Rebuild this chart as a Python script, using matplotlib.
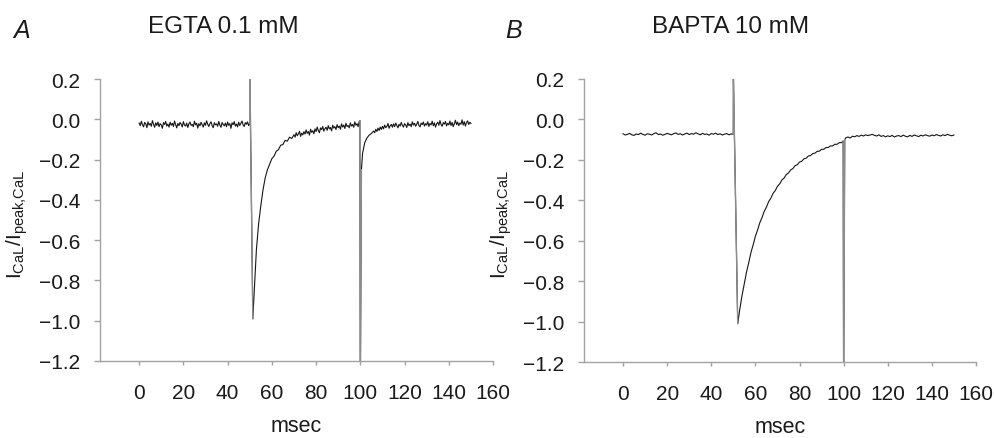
import matplotlib
matplotlib.use('Agg')
from matplotlib import pyplot as plt

plt.rcParams['font.family'] = ['Liberation Sans', 'DejaVu Sans']
plt.rcParams['mathtext.fontset'] = 'custom'
plt.rcParams['mathtext.rm'] = 'Liberation Sans'
plt.rcParams['mathtext.it'] = 'Liberation Sans:italic'

# ---- Panel A: EGTA 0.1 mM (normalised I_CaL) ----
egta_pre_t = [i * 0.5 for i in range(101)]            # 0 .. 50 ms
egta_pre = [-0.018, -0.031, -0.009, -0.026, -0.037, -0.015, -0.022, -0.041, -0.012, -0.028,
            -0.020, -0.034, -0.006, -0.024, -0.039, -0.017, -0.030, -0.013, -0.036, -0.021,
            -0.027, -0.044, -0.016, -0.025, -0.010, -0.033, -0.023, -0.038, -0.014, -0.029,
            -0.019, -0.035, -0.008, -0.026, -0.042, -0.020, -0.031, -0.015, -0.024, -0.037,
            -0.011, -0.028, -0.033, -0.018, -0.040, -0.022, -0.013, -0.030, -0.025, -0.036,
            -0.009, -0.027, -0.019, -0.043, -0.021, -0.032, -0.014, -0.026, -0.038, -0.017,
            -0.029, -0.007, -0.024, -0.035, -0.020, -0.012, -0.031, -0.041, -0.016, -0.027,
            -0.022, -0.034, -0.010, -0.028, -0.039, -0.015, -0.025, -0.032, -0.018, -0.036,
            -0.013, -0.029, -0.021, -0.044, -0.017, -0.026, -0.011, -0.033, -0.023, -0.037,
            -0.014, -0.030, -0.019, -0.008, -0.027, -0.035, -0.016, -0.024, -0.012, -0.031,
            -0.018]
egta_spike_t = [50.1, 51.4]
egta_spike = [0.2, -0.99]
egta_decay_t = list(range(52, 71)) + [70.5 + i * 0.5 for i in range(59)] + [99.8]
egta_decay = [-0.86, -0.65, -0.52, -0.43, -0.35, -0.29, -0.25, -0.222, -0.195, -0.182,
              -0.158, -0.150, -0.128, -0.125, -0.104, -0.108, -0.088, -0.095, -0.076,
              -0.088, -0.066, -0.081, -0.072, -0.059, -0.084, -0.068, -0.077, -0.061,
              -0.073, -0.052, -0.069, -0.060, -0.078, -0.049, -0.064, -0.056, -0.071, -0.047,
              -0.060, -0.038, -0.055, -0.066, -0.042, -0.051, -0.035, -0.058, -0.046, -0.039,
              -0.054, -0.031, -0.047, -0.040, -0.057, -0.029, -0.043, -0.036, -0.050, -0.026,
              -0.041, -0.033, -0.049, -0.022, -0.038, -0.028, -0.045, -0.019, -0.035, -0.030,
              -0.042, -0.017, -0.033, -0.025, -0.039, -0.012, -0.029, -0.021, -0.036, -0.010,
              -0.006]
egta_tail_t = [100.0, 100.5]
egta_tail = [-1.35, -0.25]
egta_post_t = list(range(101, 107)) + [106.5 + i * 0.5 for i in range(88)]
egta_post = [-0.17, -0.115, -0.092, -0.078, -0.070, -0.058,
             -0.066, -0.049, -0.060, -0.043, -0.055, -0.038, -0.050, -0.034,
             -0.047, -0.028, -0.041, -0.035, -0.020, -0.044, -0.031, -0.025, -0.039, -0.022,
             -0.036, -0.018, -0.030, -0.042, -0.024, -0.033, -0.015, -0.029, -0.038, -0.021,
             -0.027, -0.040, -0.016, -0.031, -0.023, -0.036, -0.012, -0.028, -0.019, -0.034,
             -0.024, -0.010, -0.030, -0.037, -0.018, -0.026, -0.013, -0.033, -0.021, -0.028,
             -0.011, -0.035, -0.020, -0.027, -0.009, -0.031, -0.017, -0.038, -0.022, -0.014,
             -0.029, -0.006, -0.025, -0.034, -0.016, -0.023, -0.010, -0.032, -0.019, -0.027,
             -0.008, -0.030, -0.015, -0.036, -0.021, -0.004, -0.026, -0.013, -0.031, -0.018,
             -0.024, -0.002, -0.028, -0.011, -0.033, -0.016, -0.007, -0.025, -0.014, -0.020]

# ---- Panel B: BAPTA 10 mM ----
bapta_pre_t = list(range(51))
bapta_pre = [-0.071, -0.077, -0.074, -0.069, -0.076, -0.079, -0.072, -0.075, -0.068, -0.074,
             -0.078, -0.071, -0.073, -0.077, -0.070, -0.066, -0.075, -0.072, -0.078, -0.074,
             -0.069, -0.073, -0.076, -0.070, -0.067, -0.074, -0.071, -0.077, -0.072, -0.068,
             -0.075, -0.070, -0.073, -0.066, -0.071, -0.076, -0.069, -0.074, -0.072, -0.078,
             -0.070, -0.073, -0.068, -0.075, -0.071, -0.077, -0.073, -0.070, -0.076, -0.072,
             -0.074]
bapta_spike_t = [50.05, 52.0]
bapta_spike = [0.2, -1.01]
bapta_decay_t = list(range(53, 100)) + [99.8]
bapta_decay = [-0.935, -0.868, -0.812, -0.754, -0.708, -0.658, -0.620, -0.578, -0.547, -0.511,
               -0.486, -0.455, -0.434, -0.407, -0.390, -0.366, -0.352, -0.331, -0.319, -0.300,
               -0.290, -0.273, -0.265, -0.250, -0.243, -0.229, -0.224, -0.211, -0.207, -0.195,
               -0.192, -0.181, -0.179, -0.169, -0.167, -0.158, -0.157, -0.148, -0.148, -0.139,
               -0.139, -0.131, -0.131, -0.123, -0.123, -0.115, -0.115, -0.107]
bapta_tail_t = [100.0, 100.5]
bapta_tail = [-1.35, -0.100]
bapta_post_t = list(range(101, 151))
bapta_post = [-0.091, -0.087, -0.092, -0.083, -0.086, -0.080, -0.084, -0.078, -0.082, -0.076,
              -0.080, -0.077, -0.074, -0.079, -0.082, -0.076, -0.084, -0.080, -0.086, -0.081,
              -0.085, -0.079, -0.087, -0.082, -0.080, -0.085, -0.078, -0.083, -0.086, -0.079,
              -0.084, -0.077, -0.081, -0.085, -0.078, -0.082, -0.076, -0.080, -0.083, -0.077,
              -0.081, -0.075, -0.079, -0.082, -0.076, -0.080, -0.074, -0.078, -0.081, -0.077]

x_ticks = [0, 20, 40, 60, 80, 100, 120, 140, 160]
y_ticks = [0.2, 0.0, -0.2, -0.4, -0.6, -0.8, -1.0, -1.2]

titles = ['EGTA 0.1 mM', 'BAPTA 10 mM']
letters = ['A', 'B']

gray = '#a3a3a3'
spike_c = '#8c8c8c'
text_c = '#1a1a1a'

traces = [
    (egta_pre_t, egta_pre, egta_spike_t, egta_spike, egta_decay_t, egta_decay,
     egta_tail_t, egta_tail, egta_post_t, egta_post),
    (bapta_pre_t, bapta_pre, bapta_spike_t, bapta_spike, bapta_decay_t, bapta_decay,
     bapta_tail_t, bapta_tail, bapta_post_t, bapta_post),
]

fig = plt.figure(figsize=(9.95, 4.39), dpi=100)
axA = fig.add_axes([0.1005, 0.1754, 0.395, 0.642])
axB = fig.add_axes([0.5869, 0.1731, 0.394, 0.6447])

for ax, tr in zip([axA, axB], traces):
    pre_t, pre, sp_t, sp, dec_t, dec, tail_t, tail, post_t, post = tr
    t = pre_t + sp_t + dec_t + tail_t + post_t
    v = pre + sp + dec + tail + post
    ax.plot(t, v, color='#151515', lw=0.8)
    # fast transients look grey in the original (sparse samples)
    ax.plot([pre_t[-1]] + sp_t, [pre[-1]] + sp, color=spike_c, lw=1.0)
    ax.plot([dec_t[-1]] + tail_t, [dec[-1]] + tail, color=spike_c, lw=1.0)

    ax.set_xlim(-17.7, 160)
    ax.set_ylim(-1.2, 0.2)
    ax.set_xticks(x_ticks)
    ax.set_yticks(y_ticks)
    ax.set_yticklabels([('%.1f' % y).replace('-', '\u2212') for y in y_ticks])
    for s in ['top', 'right']:
        ax.spines[s].set_visible(False)
    for s in ['left', 'bottom']:
        ax.spines[s].set_color(gray)
        ax.spines[s].set_linewidth(1.0)
    ax.tick_params(axis='x', direction='out', length=3, width=1, color=gray,
                   labelsize=15, labelcolor=text_c, pad=13)
    ax.tick_params(axis='y', direction='out', length=4, width=1, color=gray,
                   labelsize=15, labelcolor=text_c, pad=10)
    ax.set_xlabel('msec', fontsize=15.5, color=text_c, labelpad=9)
    ax.set_ylabel(r'$\mathregular{I_{CaL}/I_{peak{,}CaL}}$', fontsize=15, color=text_c)
    ax.yaxis.set_label_coords(-0.178, 0.49)

fig.text(0.013, 0.9134, letters[0], fontsize=18, style='italic', color=text_c, ha='left', va='baseline')
fig.text(0.224, 0.9248, titles[0], fontsize=17.5, color=text_c, ha='center', va='baseline')
fig.text(0.5075, 0.9134, letters[1], fontsize=18, style='italic', color=text_c, ha='left', va='baseline')
fig.text(0.7347, 0.9248, titles[1], fontsize=17.5, color=text_c, ha='center', va='baseline')

fig.savefig('out.png', dpi=100)
